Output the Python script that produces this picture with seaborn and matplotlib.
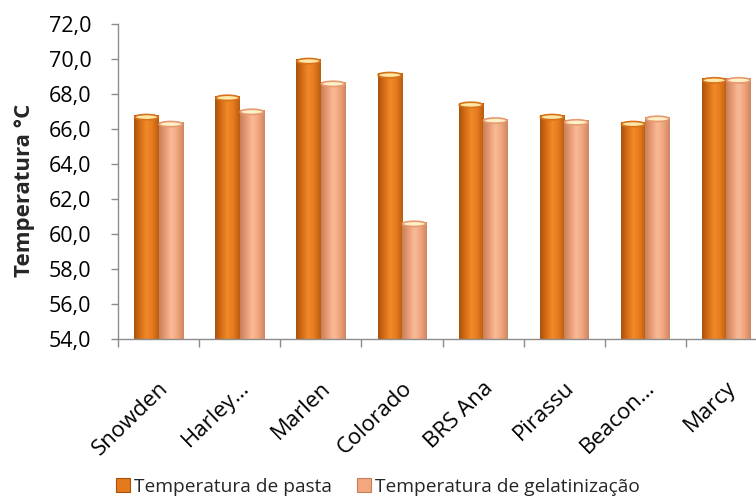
import numpy as np
import pandas as pd
import seaborn as sns
import matplotlib
matplotlib.use("Agg")
import matplotlib.pyplot as plt
from matplotlib.colors import LinearSegmentedColormap
from matplotlib.patches import Ellipse, Patch
from matplotlib.ticker import FuncFormatter, FixedLocator
from matplotlib.transforms import ScaledTranslation

# Cultivars and their temperatures (°C)
cultivares = ["Snowden", "Harley…", "Marlen", "Colorado", "BRS Ana",
              "Pirassu", "Beacon…", "Marcy"]
temp_pasta = [66.8, 67.9, 70.0, 69.2, 67.5, 66.8, 66.4, 68.9]
temp_gelatinizacao = [66.4, 67.1, 68.7, 60.7, 66.6, 66.5, 66.7, 68.9]
series = ["Temperatura de pasta", "Temperatura de gelatinização"]
yticks = [54, 56, 58, 60, 62, 64, 66, 68, 70, 72]

df = pd.DataFrame({
    "cultivar": cultivares * 2,
    "serie": [series[0]] * len(cultivares) + [series[1]] * len(cultivares),
    "temperatura": temp_pasta + temp_gelatinizacao,
})

sns.set_theme(style="white")
plt.rcParams["font.family"] = ["Open Sans", "DejaVu Sans"]

base_cols = {series[0]: "#E57A1C", series[1]: "#F2A77F"}
shade = {
    series[0]: ["#A9520E", "#D86D15", "#F08A2A", "#E57A1C", "#B85C10"],
    series[1]: ["#C7805C", "#E99B74", "#F9BC98", "#F0A47C", "#CC8662"],
}
cap_cols = {series[0]: ("#FFE7A6", "#D8721A"), series[1]: ("#FFF0C8", "#E59A70")}

fig = plt.figure(figsize=(7.56, 5.0), dpi=100)
ax = fig.add_axes([118 / 756, 1 - 339 / 500, 649 / 756, 315 / 500])

sns.barplot(data=df, x="cultivar", y="temperatura", hue="serie",
            palette=base_cols, width=0.6, saturation=1, ax=ax,
            linewidth=0, legend=False)

ymin, ymax = 54, 72
bars_by_series = [ax.patches[:len(cultivares)], ax.patches[len(cultivares):]]
for name, bars in zip(series, bars_by_series):
    cmap = LinearSegmentedColormap.from_list(name, shade[name])
    grad = np.linspace(0, 1, 64).reshape(1, -1)
    for p in bars:
        x0, w, h = p.get_x(), p.get_width(), p.get_height()
        # cylinder shading over the visible part of the bar
        im = ax.imshow(grad, cmap=cmap, aspect="auto",
                       extent=(x0, x0 + w, ymin, h), zorder=p.get_zorder() + 0.1,
                       interpolation="bicubic")
        im.set_clip_path(p)
        face, edge = cap_cols[name]
        cap = Ellipse((x0 + w / 2, h - 0.12), width=w * 0.96, height=0.3,
                      facecolor=face, edgecolor=edge, linewidth=1.2,
                      zorder=p.get_zorder() + 0.2)
        ax.add_patch(cap)

ax.set_xlim(-0.5, len(cultivares) - 0.5)
ax.set_ylim(ymin, ymax)

# Axes styling
for s in ["top", "right"]:
    ax.spines[s].set_visible(False)
for s in ["left", "bottom"]:
    ax.spines[s].set_color("#8C8C8C")
    ax.spines[s].set_linewidth(1.0)

ax.set_yticks(yticks)
ax.yaxis.set_major_formatter(FuncFormatter(lambda v, _: f"{v:.1f}".replace(".", ",")))
ax.tick_params(axis="y", which="major", direction="out", length=5, width=1,
               color="#8C8C8C", pad=14, labelsize=15.5, labelcolor="black", left=True)

ax.set_xticks(range(len(cultivares)))
ax.set_xticklabels(cultivares)
ax.xaxis.set_minor_locator(FixedLocator(np.arange(-0.5, len(cultivares) + 0.5, 1)))
ax.tick_params(axis="x", which="minor", direction="out", length=6, width=1,
               color="#8C8C8C", bottom=True)
ax.tick_params(axis="x", which="major", length=0, pad=33, labelsize=16,
               labelcolor="black")
for lbl in ax.get_xticklabels():
    lbl.set_rotation(44)
    lbl.set_ha("right")
    lbl.set_va("center")
    lbl.set_rotation_mode("anchor")
    lbl.set_transform(lbl.get_transform() + ScaledTranslation(0.07, 0, fig.dpi_scale_trans))

ax.set_xlabel("")
ax.set_ylabel("Temperatura °C", fontsize=16, fontweight="bold")
ax.yaxis.set_label_coords(-0.128, 0.473)

# Legend with shaded square markers
handles = [Patch(facecolor=base_cols[s], edgecolor=shade[s][0], linewidth=0.8)
           for s in series]
fig.legend(handles, series, loc="center", bbox_to_anchor=(0.5, 0.027), ncol=2,
           frameon=False, fontsize=13.8, handlelength=0.75, handleheight=0.75,
           handletextpad=0.2, columnspacing=1.3, borderaxespad=0)

fig.savefig("out.png", dpi=100)
